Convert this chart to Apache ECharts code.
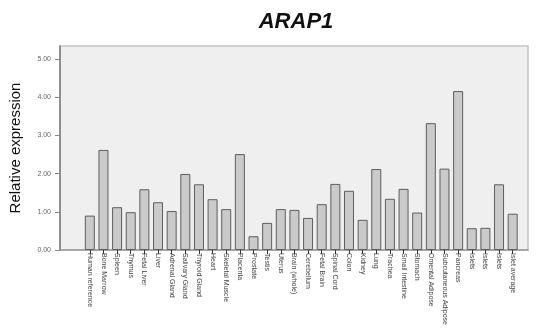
<!DOCTYPE html>
<html>
<head>
<meta charset="utf-8">
<script src="https://cdn.jsdelivr.net/npm/echarts@6/dist/echarts.min.js"></script>
<style>
html,body{margin:0;padding:0;background:#fff;}
#chart{width:539px;height:332px;}
</style>
</head>
<body>
<div id="chart"></div>
<script>
const titleText = 'ARAP1';
const yAxisName = 'Relative expression';
const categories = ['Human reference','Bone Marrow','Spleen','Thymus','Fetal Liver','Liver','Adrenal Gland','Salivary Gland','Thyroid Gland','Heart','Skeletal Muscle','Placenta','Prostate','Testis','Uterus','Brain (whole)','Cerebellum','Fetal Brain','Spinal Cord','Colon','Kidney','Lung','Trachea','Small Intestine','Stomach','Omental Adipose','Subcutaneous Adipose','Pancreas','Islets','Islets','Islets','Islet average'];
const values = [0.90,2.62,1.12,0.99,1.59,1.25,1.02,1.99,1.72,1.33,1.07,2.51,0.36,0.71,1.07,1.05,0.84,1.20,1.73,1.55,0.79,2.12,1.34,1.60,0.98,3.32,2.13,4.16,0.57,0.58,1.72,0.95];
const yMin = 0, yMax = 5.34, yInterval = 1;

const font = 'Liberation Sans, Arial, sans-serif';
const chart = echarts.init(document.getElementById('chart'), null, {renderer: 'canvas'});
chart.setOption({
  animation: false,
  backgroundColor: '#ffffff',
  title: {
    text: titleText, left: 291, top: 6, textAlign: 'center',
    textStyle: {fontFamily: font, fontSize: 22, fontWeight: 'bold', fontStyle: 'italic', color: '#111'}
  },
  grid: [
    {left: 60, right: 11, top: 46, bottom: 82, show: true, backgroundColor: '#efefef', borderColor: '#c4c4c4', borderWidth: 1.5, containLabel: false},
    {left: 83, right: 19.5, top: 46, bottom: 82, show: false, containLabel: false}
  ],
  xAxis: [
    {gridIndex: 0, type: 'category', data: [''], axisLine: {show: true, lineStyle: {color: '#999', width: 1.5}}, axisTick: {show: false}, axisLabel: {show: false}},
    {gridIndex: 1, type: 'category', data: categories, boundaryGap: true,
      axisLine: {show: false},
      axisTick: {show: true, alignWithLabel: true, length: 4, lineStyle: {color: '#333'}},
      axisLabel: {interval: 0, rotate: -90, fontFamily: font, fontSize: 7, color: '#444', margin: 3}}
  ],
  yAxis: [
    {gridIndex: 0, type: 'value', min: yMin, max: yMax, interval: yInterval,
      name: yAxisName, nameLocation: 'middle', nameGap: 37, nameRotate: 90,
      nameTextStyle: {fontFamily: font, fontSize: 15, color: '#111'},
      splitLine: {show: false},
      axisLine: {show: true, lineStyle: {color: '#7a7a7a', width: 1.5}},
      axisTick: {show: true, length: 5, lineStyle: {color: '#888'}},
      axisLabel: {showMaxLabel: false, fontFamily: font, fontSize: 7, color: '#666', margin: 9, formatter: v => v.toFixed(2)}},
    {gridIndex: 1, type: 'value', min: yMin, max: yMax, interval: yInterval, show: false, splitLine: {show: false}}
  ],
  series: [{
    type: 'bar', xAxisIndex: 1, yAxisIndex: 1, data: values, barWidth: 10,
    itemStyle: {color: '#cacaca', borderColor: '#5e5e5e', borderWidth: 1}
  }]
});
</script>
</body>
</html>
